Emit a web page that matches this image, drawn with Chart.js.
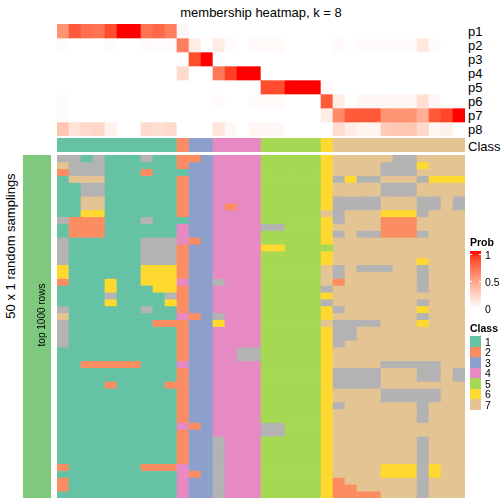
<!DOCTYPE html>
<html>
<head>
<meta charset="utf-8">
<script src="https://cdn.jsdelivr.net/npm/chart.js@4.4.0/dist/chart.umd.min.js"></script>
<style>
  body { margin: 0; background: #fff; }
  #wrap {
    position: relative;
    width: 504px;
    height: 504px;
    overflow: hidden;
    font-family: "Liberation Sans", Arial, sans-serif;
    color: #000;
  }
  canvas { position: absolute; }
  .txt {
    position: absolute;
    white-space: nowrap;
    line-height: 1;
    transform: translate(-50%, -50%);
  }
  .lbl {
    position: absolute;
    white-space: nowrap;
    line-height: 1;
    transform: translateY(-50%);
  }
  .box { position: absolute; width: 11px; }
</style>
</head>
<body>
<div id="wrap">
  <div class="txt" style="left:261px; top:11.5px; font-size:13px;">membership heatmap, k = 8</div>
  <div class="txt" style="left:10px; top:246px; font-size:13px; transform:translate(-50%,-50%) rotate(-90deg);">50 x 1 random samplings</div>

  <canvas id="samplingBar" width="28" height="343" style="left:23px; top:155px;"></canvas>
  <div class="txt" style="left:42px; top:315px; font-size:10px; transform:translate(-50%,-50%) rotate(-90deg);">top 1000 rows</div>

  <canvas id="probChart" width="408" height="112" style="left:57px; top:24px;"></canvas>
  <canvas id="classChart" width="408" height="14" style="left:57px; top:138px;"></canvas>
  <canvas id="sampleChart" width="408" height="343" style="left:57px; top:155px;"></canvas>

  <div id="rowLabels"></div>
  <div id="legend"></div>
</div>

<script>
// ---- data ----
const columns = Array.from({ length: 34 }, (_, i) => "s" + (i + 1));

// class of each column (top annotation)
const columnClass = [
  1, 1, 1, 1, 1, 1, 1, 1, 1, 1,
  2,
  3, 3,
  4, 4, 4, 4,
  5, 5, 5, 5, 5,
  6,
  7, 7, 7, 7, 7, 7, 7, 7, 7, 7, 7,
];

// membership probabilities
const p1 = [0.55, 0.8, 0.72, 0.7, 0.85, 1, 1, 0.7, 0.75, 0.65, 0.04, 0, 0, 0, 0, 0, 0, 0, 0, 0, 0, 0, 0, 0, 0, 0, 0, 0, 0, 0, 0, 0, 0, 0];
const p2 = [0.02, 0, 0, 0, 0.02, 0, 0, 0.02, 0.01, 0.02, 0.65, 0.1, 0, 0.1, 0.02, 0, 0.03, 0.03, 0.03, 0, 0, 0, 0, 0.03, 0, 0.02, 0.02, 0.02, 0.02, 0.02, 0.12, 0.02, 0, 0];
const p3 = [0, 0, 0, 0, 0, 0, 0, 0, 0, 0, 0, 0.85, 1, 0, 0, 0, 0, 0, 0, 0, 0, 0, 0, 0, 0, 0, 0, 0, 0, 0, 0, 0, 0, 0];
const p4 = [0, 0, 0, 0, 0, 0, 0, 0, 0, 0, 0.2, 0, 0, 0.68, 0.9, 1, 1, 0, 0, 0, 0, 0, 0, 0, 0, 0, 0, 0, 0, 0, 0, 0, 0, 0];
const p5 = [0, 0, 0, 0, 0, 0, 0, 0, 0, 0, 0, 0, 0, 0, 0, 0, 0, 0.85, 0.85, 1, 1, 1, 0.02, 0, 0, 0, 0, 0, 0, 0, 0, 0, 0, 0];
const p6 = [0.02, 0, 0, 0, 0, 0, 0, 0, 0, 0, 0, 0, 0, 0.02, 0, 0, 0.02, 0.03, 0.03, 0, 0, 0, 0.8, 0.1, 0, 0.04, 0.04, 0.05, 0.05, 0.05, 0.17, 0.04, 0, 0];
const p7 = [0.02, 0, 0, 0, 0, 0, 0, 0, 0, 0, 0, 0, 0, 0, 0, 0, 0, 0, 0, 0, 0, 0, 0.1, 0.6, 0.8, 0.8, 0.8, 0.55, 0.55, 0.55, 0.42, 0.8, 0.87, 1];
const p8 = [0.3, 0.15, 0.2, 0.21, 0.07, 0, 0, 0.2, 0.17, 0.2, 0, 0, 0, 0.13, 0.04, 0, 0.05, 0.04, 0.04, 0, 0, 0, 0, 0.18, 0.1, 0.06, 0.06, 0.28, 0.3, 0.3, 0.2, 0.05, 0.07, 0];

const probNames = ["p1", "p2", "p3", "p4", "p5", "p6", "p7", "p8"];
const probRows = [p1, p2, p3, p4, p5, p6, p7, p8];

// class assigned in each of the 50 random samplings (0 = NA)
const samplings = [
  "0010111011 2 23 4444 55555 6 77777007777",
  "7000111111 2 33 4444 55555 6 77770006777",
  "2000111211 1 33 4444 55555 6 77770007777",
  "1777111111 2 33 4444 55555 6 06007770666",
  "1100111111 2 33 4444 55555 6 77770007777",
  "1100111111 2 33 4444 55555 6 77770007777",
  "1177111111 2 33 4444 55555 6 00007770070",
  "1177111111 2 33 4244 55555 6 00007770070",
  "1166111111 2 33 4444 55555 7 07776660777",
  "0222111011 1 33 4444 55555 6 07772227777",
  "1222111111 4 33 4444 00555 6 77772227777",
  "1222111111 4 33 4444 55555 6 07002220777",
  "0111111000 4 23 4444 55555 6 77777777777",
  "0111111000 2 33 4444 66555 5 77777777777",
  "0111111000 2 33 4444 55555 6 77777777777",
  "0111111000 2 33 4444 55555 6 77777776777",
  "6111111666 2 33 4444 55555 7 07000770777",
  "6111111666 2 33 4444 55555 7 07777770777",
  "2111611666 4 33 0444 55555 7 27777770777",
  "1111611166 2 33 4444 55555 0 77777770777",
  "1111011110 2 33 4444 55555 6 77777777777",
  "1111611116 2 33 4444 55555 0 77777770777",
  "0111111011 2 33 4444 55555 6 07777776777",
  "7111111111 4 23 0444 55555 6 77777770777",
  "0111111122 2 33 6444 55555 7 00007776777",
  "0111111111 2 33 4444 55555 6 00777777777",
  "0111111111 2 33 4444 55555 6 00777777777",
  "0111111111 2 33 4444 55555 6 07777777777",
  "1111111111 2 33 4400 55555 6 77777777777",
  "1111111111 2 33 4400 55555 6 77777777777",
  "1122222111 4 33 4444 55555 6 77770000077",
  "1111111111 2 33 4444 55555 6 00007770070",
  "1111111111 2 33 4444 55555 6 00007770070",
  "1111211112 2 33 4444 55555 6 00007777777",
  "1111111111 2 33 4444 55555 6 77770000077",
  "1111111111 2 33 4444 55555 6 77770000077",
  "1111111111 2 33 4444 55555 6 07777770777",
  "1111111111 2 33 4444 55555 6 77777770777",
  "1111111111 2 33 4444 55555 6 77777770777",
  "1111111111 4 23 4444 00555 6 77777777777",
  "1111111111 2 33 4444 00555 6 77777777777",
  "1111111111 2 33 0444 55555 6 77777770777",
  "1111111111 2 33 0444 55555 6 77777770777",
  "1111111111 2 33 0444 55555 6 77777770777",
  "1111111111 2 33 0444 55555 6 77777770777",
  "2111111222 4 33 0444 55555 6 77776660677",
  "1111111111 4 23 0444 55555 6 77776660677",
  "2111111111 4 33 0444 55555 6 27777770777",
  "2111111111 4 33 0444 55555 6 22777770777",
  "1111111111 4 33 0444 55555 6 22227770777",
];

const classLabels = ["1", "2", "3", "4", "5", "6", "7"];
const probTicks = [1, 0.5, 0];

// ---- styles ----
const classColors = {
  0: "#B3B3B3",
  1: "#66C2A5",
  2: "#FC8D62",
  3: "#8DA0CB",
  4: "#E78AC3",
  5: "#A6D854",
  6: "#FFD92F",
  7: "#E5C494",
};
const samplingColor = "#7FC97F";

// white -> red ramp interpolated in LAB, like colorRamp2
function toLin(c) {
  c /= 255;
  return c <= 0.04045 ? c / 12.92 : Math.pow((c + 0.055) / 1.055, 2.4);
}
function fromLin(c) {
  c = c <= 0.0031308 ? 12.92 * c : 1.055 * Math.pow(c, 1 / 2.4) - 0.055;
  return Math.round(Math.min(1, Math.max(0, c)) * 255);
}
function rgbToLab([r, g, b]) {
  r = toLin(r); g = toLin(g); b = toLin(b);
  const x = (0.4124 * r + 0.3576 * g + 0.1805 * b) / 0.95047;
  const y = 0.2126 * r + 0.7152 * g + 0.0722 * b;
  const z = (0.0193 * r + 0.1192 * g + 0.9505 * b) / 1.08883;
  const f = (t) => (t > 0.008856 ? Math.cbrt(t) : 7.787 * t + 16 / 116);
  return [116 * f(y) - 16, 500 * (f(x) - f(y)), 200 * (f(y) - f(z))];
}
function labToRgb([L, a, b]) {
  const fy = (L + 16) / 116, fx = fy + a / 500, fz = fy - b / 200;
  const inv = (t) => (t * t * t > 0.008856 ? t * t * t : (t - 16 / 116) / 7.787);
  const x = inv(fx) * 0.95047, y = inv(fy), z = inv(fz) * 1.08883;
  const r = 3.2406 * x - 1.5372 * y - 0.4986 * z;
  const g = -0.9689 * x + 1.8758 * y + 0.0415 * z;
  const bl = 0.0557 * x - 0.204 * y + 1.057 * z;
  return `rgb(${fromLin(r)},${fromLin(g)},${fromLin(bl)})`;
}
const labWhite = rgbToLab([255, 255, 255]);
const labRed = rgbToLab([255, 0, 0]);
function probColor(v) {
  return labToRgb(labWhite.map((w, i) => w + (labRed[i] - w) * v));
}

const samplingGrid = samplings.map((s) => s.replace(/ /g, "").split("").map(Number));

// ---- charts ----
function heatmap(id, labels, rowNames, colorAt) {
  return new Chart(document.getElementById(id), {
    type: "bar",
    data: {
      labels: labels,
      datasets: rowNames.map((name, ri) => ({
        label: name,
        data: labels.map(() => 1),
        backgroundColor: labels.map((_, ci) => colorAt(ri, ci)),
        borderWidth: 0,
        barPercentage: 1,
        categoryPercentage: 1,
      })),
    },
    options: {
      responsive: false,
      animation: false,
      events: [],
      layout: { padding: 0 },
      plugins: {
        legend: { display: false },
        tooltip: { enabled: false },
      },
      scales: {
        x: { display: false, stacked: true },
        y: { display: false, stacked: true, reverse: true, min: 0, max: rowNames.length },
      },
    },
  });
}

heatmap("probChart", columns, probNames, (ri, ci) => probColor(probRows[ri][ci]));
heatmap("classChart", columns, ["Class"], (ri, ci) => classColors[columnClass[ci]]);
heatmap(
  "sampleChart",
  columns,
  samplingGrid.map((_, i) => "run" + (i + 1)),
  (ri, ci) => classColors[samplingGrid[ri][ci]]
);
heatmap("samplingBar", ["top 1000 rows"], ["50 x 1 random samplings"], () => samplingColor);

// ---- row labels on the right ----
const rowLabels = document.getElementById("rowLabels");
probNames.concat(["Class"]).forEach((name, i) => {
  const d = document.createElement("div");
  d.className = "lbl";
  d.style.left = "468px";
  d.style.top = (i < 8 ? 24 + 14 * i + 7 : 145.5) + "px";
  d.style.fontSize = "13px";
  d.textContent = name;
  rowLabels.appendChild(d);
});

// ---- legends ----
const legend = document.getElementById("legend");
function addLabel(text, x, y, size, bold) {
  const d = document.createElement("div");
  d.className = "lbl";
  d.style.left = x + "px";
  d.style.top = y + "px";
  d.style.fontSize = size + "px";
  if (bold) d.style.fontWeight = "bold";
  d.textContent = text;
  legend.appendChild(d);
}

addLabel("Prob", 470, 242, 10.5, true);
const grad = document.createElement("div");
const stops = [];
for (let i = 0; i <= 10; i++) stops.push(`${probColor(i / 10)} ${100 - i * 10}%`);
grad.style.cssText = `position:absolute; left:470px; top:251px; width:11px; height:57px;
  background:linear-gradient(to bottom, ${stops.reverse().join(",")});`;
legend.appendChild(grad);
probTicks.forEach((t) => {
  const y = 308 - t * 54;
  addLabel(String(t), 485, y + 0.5, 10.5, false);
  if (t > 0) {
    [470, 479].forEach((x) => {
      const tk = document.createElement("div");
      tk.style.cssText = `position:absolute; left:${x}px; top:${y}px; width:2px; height:1px; background:#fff;`;
      legend.appendChild(tk);
    });
  }
});

addLabel("Class", 470, 327.5, 10.5, true);
classLabels.forEach((lab, i) => {
  const b = document.createElement("div");
  b.className = "box";
  b.style.left = "470px";
  b.style.top = 336 + i * 10.5 + "px";
  b.style.height = "10.5px";
  b.style.background = classColors[i + 1];
  legend.appendChild(b);
  addLabel(lab, 485, 336 + i * 10.5 + 5.5, 10.5, false);
});
</script>
</body>
</html>
